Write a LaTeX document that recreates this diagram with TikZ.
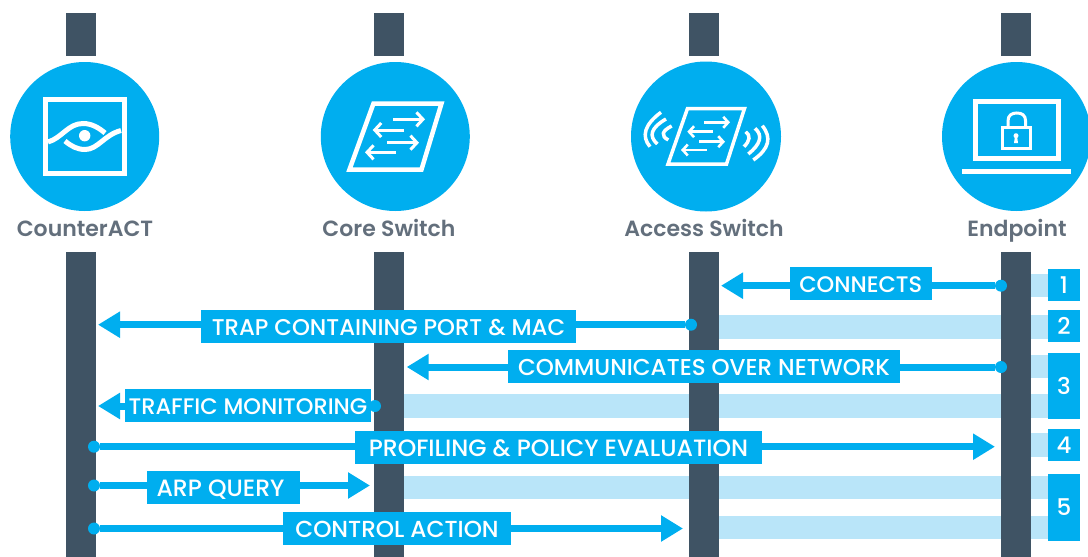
\documentclass[tikz,border=0pt]{standalone}
\usepackage{fontspec}
\setmainfont{Poppins}
\newfontfamily\medf{Poppins Medium}
\newfontfamily\semif{Poppins SemiBold}
\usetikzlibrary{arrows.meta}
\definecolor{cyanmain}{HTML}{00AEEF}
\definecolor{band}{HTML}{B9E5F9}
\definecolor{barcol}{HTML}{3F5364}
\definecolor{greytxt}{HTML}{636F7C}
\tikzset{
  barbox/.style={fill=barcol,draw=none,inner sep=0,minimum width=30pt},
  bandbox/.style={fill=band,draw=none},
  disc/.style={circle,fill=cyanmain,draw=none,inner sep=0,minimum size=149pt},
  dotnode/.style={circle,fill=cyanmain,draw=none,inner sep=0,minimum size=12pt},
  title/.style={text=greytxt,font=\semif\fontsize{22}{24}\selectfont,inner sep=0,text height=16pt,text depth=0pt},
  msg/.style={fill=cyanmain,text=white,font=\medf\fontsize{#1}{26}\selectfont,inner sep=0,minimum height=33pt,text height=18pt,text depth=0pt},
  msg/.default=22.5,
  numbox/.style={fill=cyanmain,text=white,font=\medf\fontsize{23}{26}\selectfont,inner sep=0,minimum width=32pt,text height=16.5pt,text depth=0pt},
  flow/.style={cyanmain,line width=7pt,-{Triangle[length=22pt,width=25pt]}},
  ico/.style={white,line width=#1,fill=none},
  ico/.default=4.5pt,
  icoarrow/.style={white,line width=3pt,-{Straight Barb[length=6.5pt,width=14pt]}},
  icoarrowb/.style={white,line width=2.6pt,-{Straight Barb[length=5pt,width=11pt]}}
}
\begin{document}
\begin{tikzpicture}[x=1pt,y=-1pt]
\clip (0,0) rectangle (1088,557);
% bands
\fill[bandbox] (1031,273.5) rectangle (1048,297.3);
\fill[bandbox] (719,315) rectangle (1048,338.5);
\fill[bandbox] (1031,354.7) rectangle (1048,378);
\fill[bandbox] (404,394) rectangle (1048,417.7);
\fill[bandbox] (1031,433.3) rectangle (1048,457);
\fill[bandbox] (404,476) rectangle (1048,499.3);
\fill[bandbox] (719,515.7) rectangle (1048,539);
% upper stubs and lifelines
\foreach \n/\x in {a/81,b/389,c/704,d/1016}{
  \node[barbox,minimum height=43pt] (stub\n) at (\x,34.5) {};
  \node[barbox,minimum height=305pt] (line\n) at (\x,404.5) {};
}
% discs
\node[disc] (cact) at (84.7,136.5) {};
\node[disc] (core) at (395.3,136.5) {};
\node[disc,minimum size=150pt] (acc) at (706,136.5) {};
\node[disc] (endp) at (1016.5,136.5) {};
% titles
\node[title] (tcact) at (85,228) {CounterACT};
\node[title] (tcore) at (389,228) {Core Switch};
\node[title] (tacc) at (704,228) {Access Switch};
\node[title] (tendp) at (1017,228) {Endpoint};
% counteract icon
\draw[ico=5pt] (45.5,99) rectangle (124,173.5);
\draw[ico=5pt] (48,142) .. controls (62,138) and (68,123.5) .. (83,123.5) .. controls (92,123.5) and (99,128) .. (105,133);
\draw[ico=5pt] (65,141) .. controls (71,146) and (77,149.5) .. (85,149.5) .. controls (98,149.5) and (104,135) .. (121,130.5);
\fill[white] (84.7,135.7) circle (5.7);
% core icon
\draw[ico=4.5pt,miter limit=10] (373.5,103.5) -- (441.5,103.5) -- (421.5,169.5) -- (349.5,169.5) -- cycle;
\draw[icoarrow] (393.3,119.3) -- (425,119.3);
\draw[icoarrow] (404,130) -- (372.7,130);
\draw[icoarrow] (387.3,142.7) -- (419,142.7);
\draw[icoarrow] (396,152.3) -- (365,152.3);
% access icon
\draw[ico=3.5pt,miter limit=10] (687.5,108.5) -- (744.5,108.5) -- (726.5,164) -- (668,164) -- cycle;
\draw[icoarrowb] (704.3,122.3) -- (730,122.3);
\draw[icoarrowb] (712.7,131.7) -- (687.3,131.7);
\draw[icoarrowb] (699.3,141.7) -- (725,141.7);
\draw[icoarrowb] (706.7,150) -- (681,150);
\draw[ico=3.5pt] (671.7,126) .. controls (661.7,131.1) and (660.6,135.7) .. (668.3,140);
\draw[ico=3.5pt] (666,119) .. controls (651.1,127.6) and (648.2,135.9) .. (657.3,144);
\draw[ico=3.5pt] (661,112.3) .. controls (644.7,124.4) and (641,136) .. (650,146.7);
\draw[ico=3.5pt] (745.7,131.7) .. controls (750.7,135.5) and (750.1,140.5) .. (744,146.7);
\draw[ico=3.5pt] (755,128.3) .. controls (763,135.3) and (760.8,144) .. (748.3,154);
\draw[ico=3.5pt] (762.3,125.7) .. controls (772,137.8) and (769,149) .. (753.3,160);
% endpoint icon
\draw[ico=4.7pt] (975.4,101.7) rectangle (1058.6,158.3);
\fill[white] (962,169) rectangle (1071,174);
\draw[ico=3pt] (1002.8,127.5) rectangle (1030.8,148.2);
\draw[ico=3pt] (1008,126) -- (1008,121) .. controls (1008,115) and (1012,113) .. (1016.8,113) .. controls (1021.6,113) and (1025.6,115) .. (1025.6,121) -- (1025.6,126);
\fill[white] (1016,135.7) circle (2.5);
\fill[white] (1015,136) -- (1017,136) -- (1018,143) -- (1014,143) -- cycle;
% dots and free ends
\node[dotnode] (d1) at (1001,285.7) {};
\node[dotnode] (d2) at (691,324.7) {};
\node[dotnode] (d3) at (1001,367) {};
\node[dotnode] (d4) at (375,406) {};
\node[dotnode] (d5) at (94,446.7) {};
\node[dotnode] (d6) at (94,485.5) {};
\node[dotnode] (d7) at (94,528.5) {};
\coordinate (e1) at (721,285.7);
\coordinate (e2) at (98,324.7);
\coordinate (e3) at (406.7,367);
\coordinate (e4) at (98,406);
\coordinate (e5) at (995,446.7);
\coordinate (e6) at (370,485.5);
\coordinate (e7) at (683,528.5);
\foreach \i in {1,...,7}{\draw[flow] (d\i) -- (e\i);}
% labels
\node[msg,minimum width=142pt] (m1) at (860.8,283.5) {CONNECTS};
\node[msg=22.8,minimum width=375pt] (m2) at (388.5,326.5) {TRAP CONTAINING PORT \& MAC};
\node[msg=23,minimum width=392pt] (m3) at (704,366.5) {COMMUNICATES OVER NETWORK};
\node[msg,minimum width=246pt] (m4) at (248,405.5) {TRAFFIC MONITORING};
\node[msg=23.6,minimum width=407pt] (m5) at (558.5,447.5) {PROFILING \& POLICY EVALUATION};
\node[msg=23.6,minimum width=153pt] (m6) at (223.5,487.5) {ARP QUERY\hspace*{6pt}};
\node[msg=23.2,minimum width=228pt] (m7) at (397,528.5) {CONTROL ACTION};
% step numbers
\node[numbox,minimum height=32pt] (n1) at (1064,285) {1};
\node[numbox,minimum height=32pt] (n2) at (1064,325.8) {2};
\node[numbox,minimum height=66.3pt] (n3) at (1064,386.2) {3};
\node[numbox,minimum height=32pt] (n4) at (1064,445.2) {4};
\node[numbox,minimum height=66.7pt] (n5) at (1064,507.3) {5};
\end{tikzpicture}
\end{document}
